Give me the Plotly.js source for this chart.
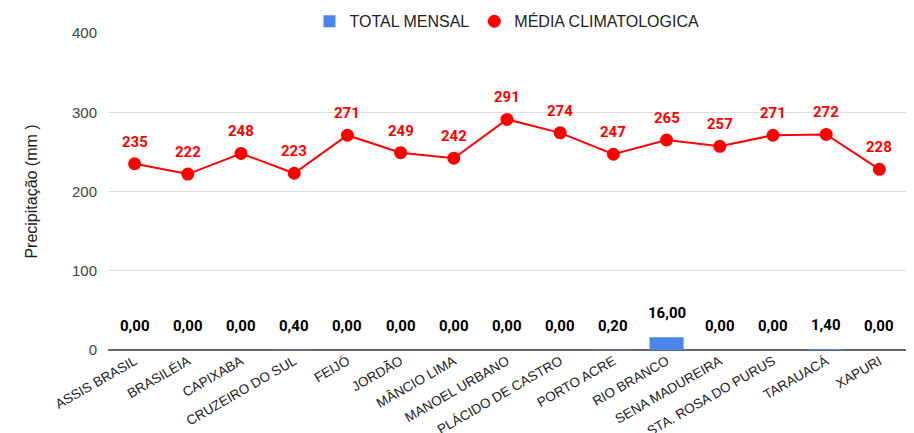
<!DOCTYPE html>
<html>
<head>
<meta charset="utf-8">
<script src="https://cdn.plot.ly/plotly-3.0.1.min.js"></script>
<style>html,body{margin:0;padding:0;background:#fff;}#chart{width:914px;height:433px;}</style>
</head>
<body>
<div id="chart"></div>
<script>
const categories = ["ASSIS BRASIL","BRASILÉIA","CAPIXABA","CRUZEIRO DO SUL","FEIJÓ","JORDÃO","MÂNCIO LIMA","MANOEL URBANO","PLÁCIDO DE CASTRO","PORTO ACRE","RIO BRANCO","SENA MADUREIRA","STA. ROSA DO PURUS","TARAUACÁ","XAPURI"];
const totalMensal = [0, 0, 0, 0.4, 0, 0, 0, 0, 0, 0.2, 16, 0, 0, 1.4, 0];
const mediaClimatologica = [235, 222, 248, 223, 271, 249, 242, 291, 274, 247, 265, 257, 271, 272, 228];

const fmt = v => v.toFixed(2).replace('.', ',');

const barTrace = {
  type: 'bar', name: 'TOTAL MENSAL', x: categories, y: totalMensal,
  marker: {color: '#4a86e8'}, width: 0.64, hoverinfo: 'skip'
};
const lineTrace = {
  type: 'scatter', mode: 'lines+markers', name: 'MÉDIA CLIMATOLOGICA',
  x: categories, y: mediaClimatologica,
  line: {color: '#ff0000', width: 2},
  marker: {color: '#ff0000', size: 13}, showlegend: false
};
const lineLegend = {
  type: 'scatter', mode: 'markers', name: 'MÉDIA CLIMATOLOGICA',
  x: [null], y: [null], marker: {color: '#ff0000', size: 13}
};

const annotations = [];
categories.forEach((c, i) => {
  annotations.push({x: c, y: totalMensal[i], text: fmt(totalMensal[i]), showarrow: false,
    yshift: 24, font: {family: 'Roboto, Arial', size: 15, color: '#000', weight: 'bold'}});
  annotations.push({x: c, y: mediaClimatologica[i], text: String(mediaClimatologica[i]), showarrow: false,
    yshift: 22, font: {family: 'Roboto, Arial', size: 15, color: '#ff0000', weight: 'bold'}});
});

const layout = {
  width: 914, height: 433,
  margin: {l: 108, r: 8, t: 33, b: 83, autoexpand: false},
  paper_bgcolor: '#fff', plot_bgcolor: '#fff',
  showlegend: true,
  legend: {orientation: 'h', x: 0.5, xanchor: 'center', xref: 'paper', yref: 'container', y: 0.99, yanchor: 'top',
    font: {family: 'Arial, Liberation Sans', size: 16, color: '#222'}, traceorder: 'normal', itemwidth: 30},
  xaxis: {type: 'category', range: [-0.5, categories.length - 0.5], tickangle: -30, automargin: false,
    tickfont: {family: 'Arial, Liberation Sans', size: 13.5, color: '#222'},
    showgrid: false, showline: false, zeroline: false, ticks: ''},
  yaxis: {range: [0, 400], automargin: false, tickvals: [0, 100, 200, 300, 400], gridcolor: '#dddddd', gridwidth: 1,
    zeroline: true, zerolinecolor: '#666', zerolinewidth: 2,
    tickfont: {family: 'Arial, Liberation Sans', size: 15, color: '#444'}, ticks: '', ticklabelstandoff: 10,
    title: {text: 'Precipitação (mm )', font: {family: 'Arial, Liberation Sans', size: 16, color: '#222'}, standoff: 30}},
  annotations: annotations,
  bargap: 0.36
};

Plotly.newPlot('chart', [barTrace, lineTrace, lineLegend], layout, {displayModeBar: false, staticPlot: true});
</script>
</body>
</html>
